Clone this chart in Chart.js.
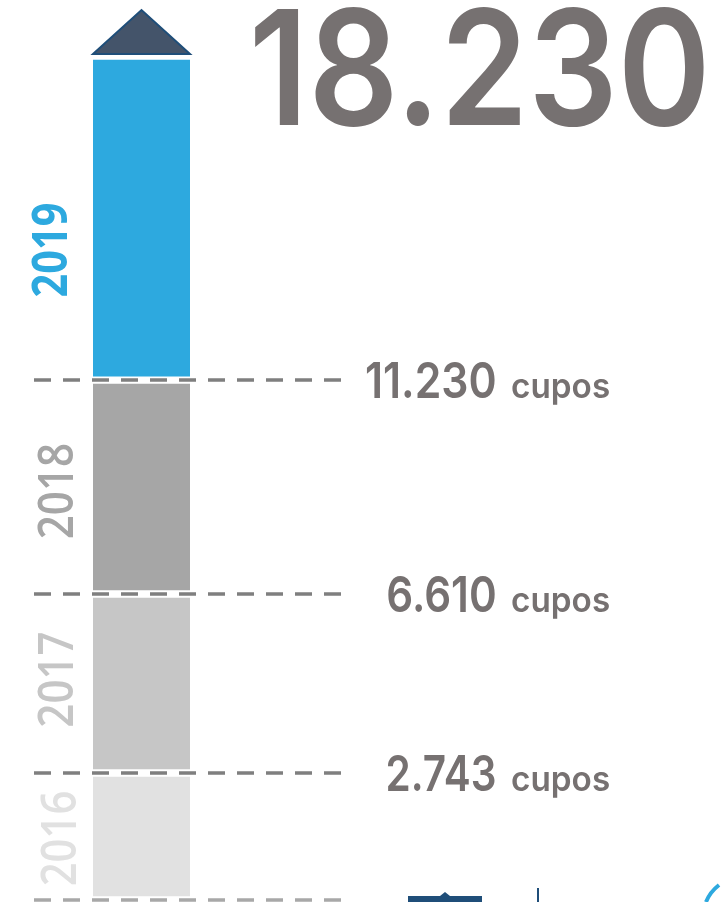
<!DOCTYPE html>
<html>
<head>
<meta charset="utf-8">
<script src="https://cdn.jsdelivr.net/npm/chart.js@4.4.1/dist/chart.umd.min.js"></script>
<style>
  html, body { margin: 0; padding: 0; background: #fff; }
  canvas { display: block; }
</style>
</head>
<body>
<canvas id="cupos" width="728" height="902"></canvas>
<script>
// cupos por año (apilados) y total acumulado
const years = ['2016', '2017', '2018', '2019'];
const newCupos = [2743, 3867, 4620, 7000];
const totalCupos = [2743, 6610, 11230, 18230];
const yearColors = ['#E1E1E1', '#C6C6C6', '#A6A6A6', '#2DA9DF'];

const TEXT_GREY = '#767171';
const FONT = 'Inter, "Open Sans", sans-serif';

const fmt = (n) => String(n).replace(/\B(?=(\d{3})+(?!\d))/g, '.');

// texto ajustado a un ancho de tinta dado (la fuente original es más estrecha)
function fittedText(ctx, text, x, y, font, color, inkWidth) {
  ctx.save();
  ctx.font = font;
  const m = ctx.measureText(text);
  const ink = m.actualBoundingBoxLeft + m.actualBoundingBoxRight;
  const sx = inkWidth / ink;
  ctx.translate(x, y);
  ctx.scale(sx, 1);
  ctx.fillStyle = color;
  ctx.textAlign = 'left';
  ctx.textBaseline = 'alphabetic';
  // x es el borde derecho de la tinta
  ctx.fillText(text, -m.actualBoundingBoxRight, 0);
  ctx.restore();
  return inkWidth;
}

const yearLabelX = [76, 73, 73, 67];
const yearLabelShift = [2, -4, 4, 32];

const decor = {
  id: 'decor',
  afterDatasetsDraw(chart) {
    const ctx = chart.ctx;
    const y = chart.scales.y;

    // líneas discontinuas en cada corte acumulado
    const cuts = [0].concat(totalCupos.slice(0, -1));
    ctx.save();
    ctx.setLineDash([17, 12]);
    ctx.lineWidth = 3.5;
    cuts.forEach((v, i) => {
      const py = Math.round(y.getPixelForValue(v));
      ctx.strokeStyle = i === 0 ? '#A8A8A8' : '#7F7F7F';
      ctx.beginPath();
      ctx.moveTo(34, py);
      ctx.lineTo(345, py);
      ctx.stroke();
    });
    ctx.restore();

    // etiquetas "xx.xxx cupos"
    totalCupos.slice(0, -1).forEach((v) => {
      const py = y.getPixelForValue(v) + 18;
      fittedText(ctx, 'cupos', 609, py, '600 35px ' + FONT, TEXT_GREY, 97);
      const label = fmt(v);
      fittedText(ctx, label, 495, py, '600 50px ' + FONT, TEXT_GREY, label.length * 21.4);
    });

    // total grande arriba
    const total = totalCupos[totalCupos.length - 1];
    fittedText(ctx, fmt(total), 704, 125, '600 160px ' + FONT, TEXT_GREY, 449);

    // flecha triangular sobre la barra superior
    const top = chart.getDatasetMeta(years.length - 1).data[0];
    const half = top.width / 2;
    const baseY = top.y - 2;
    ctx.save();
    ctx.beginPath();
    ctx.moveTo(top.x - half, baseY);
    ctx.lineTo(top.x, baseY - 44);
    ctx.lineTo(top.x + half, baseY);
    ctx.closePath();
    ctx.fillStyle = '#44546A';
    ctx.fill();
    ctx.lineWidth = 2;
    ctx.strokeStyle = '#1F4E79';
    ctx.stroke();
    ctx.restore();

    // años rotados al lado de cada segmento
    years.forEach((yr, i) => {
      const bar = chart.getDatasetMeta(i).data[0];
      const cy = (bar.y + bar.base) / 2 + yearLabelShift[i];
      ctx.save();
      ctx.translate(yearLabelX[i], cy);
      ctx.rotate(-Math.PI / 2);
      ctx.font = (i === 3 ? 'bold' : '600') + ' 49px "Open Sans", sans-serif';
      const m = ctx.measureText(yr);
      ctx.scale(93 / (m.actualBoundingBoxLeft + m.actualBoundingBoxRight), 1);
      ctx.fillStyle = yearColors[i];
      ctx.textAlign = 'center';
      ctx.textBaseline = 'alphabetic';
      ctx.fillText(yr, 0, 0);
      ctx.restore();
    });

    // restos de logos cortados abajo
    ctx.save();
    ctx.fillStyle = '#1F4E79';
    ctx.beginPath();
    ctx.moveTo(408, 896); ctx.lineTo(440, 896); ctx.lineTo(445, 892);
    ctx.lineTo(450, 896); ctx.lineTo(482, 896); ctx.lineTo(482, 902); ctx.lineTo(408, 902);
    ctx.closePath();
    ctx.fill();
    ctx.fillRect(537, 888, 2, 14);
    ctx.strokeStyle = '#2DA9DF';
    ctx.lineWidth = 4;
    ctx.beginPath();
    ctx.moveTo(706, 902);
    ctx.quadraticCurveTo(710, 892, 719, 885);
    ctx.stroke();
    ctx.restore();
  }
};

new Chart(document.getElementById('cupos'), {
  type: 'bar',
  data: {
    labels: [''],
    datasets: years.map((yr, i) => ({
      label: yr,
      data: [newCupos[i]],
      backgroundColor: yearColors[i],
      borderColor: '#ffffff',
      borderWidth: { top: 4, bottom: 4, left: 0, right: 0 },
      borderSkipped: false,
      barPercentage: 1,
      categoryPercentage: 1,
    })),
  },
  options: {
    responsive: false,
    animation: false,
    layout: { padding: { top: 56, bottom: 2, left: 93, right: 538 } },
    scales: {
      x: { stacked: true, display: false },
      y: { stacked: true, display: false, min: 0, max: totalCupos[totalCupos.length - 1] },
    },
    plugins: {
      legend: { display: false },
      tooltip: { enabled: false },
    },
  },
  plugins: [decor],
});
</script>
</body>
</html>
